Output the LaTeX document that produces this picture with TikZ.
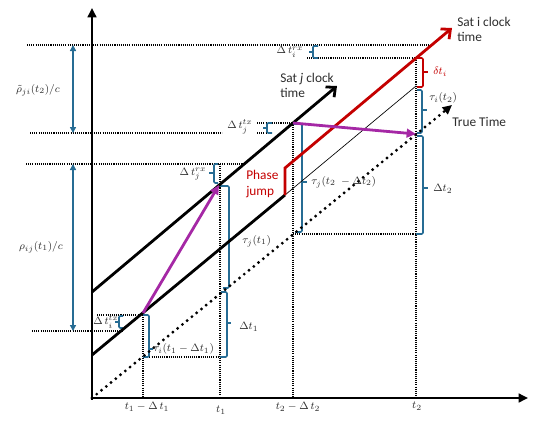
\documentclass[tikz,border=0pt]{standalone}
\usepackage{fontspec}
\setmainfont{Carlito}
\usetikzlibrary{arrows.meta}
\definecolor{bl}{RGB}{38,108,148}
\definecolor{rd}{RGB}{196,0,0}
\definecolor{pu}{RGB}{165,40,165}
\definecolor{tx}{RGB}{45,45,45}
\begin{document}
\begin{tikzpicture}[x=0.75pt,y=-0.75pt,
  axis/.style={line width=2.2pt, -{Triangle[length=7pt,width=6.5pt]}},
  clock/.style={line width=2.1pt},
  openhead/.style={-{Straight Barb[length=5.5pt,width=10pt]}},
  grid/.style={line width=1pt, dash pattern=on 0.8pt off 0.8pt},
  ttime/.style={line width=2.4pt, line cap=round, dash pattern=on 0pt off 4.6pt},
  sig/.style={pu, line width=2.1pt, -{Triangle[length=7pt,width=6.5pt]}},
  brace/.style={bl, line width=1.2pt, rounded corners=1pt},
  rbrace/.style={rd, line width=1.2pt, rounded corners=1pt},
  rng/.style={bl, line width=1pt, {Triangle[length=4.5pt,width=4.5pt]}-{Triangle[length=4.5pt,width=4.5pt]}},
  ml/.style={font=\fontsize{8.5}{10}\selectfont, text=tx, inner sep=0pt},
  tl/.style={font=\fontsize{8}{10}\selectfont, text=tx, inner sep=0pt},
  wl/.style={font=\fontsize{10}{11.5}\selectfont, align=left, inner sep=0pt, anchor=west, text=tx},
]
\useasboundingbox (0,0) rectangle (536,425);

% key points
\coordinate (O) at (92,398);
\coordinate (Ytop) at (92,8);
\coordinate (Xend) at (528,398);
\coordinate (TTend) at (452,105);
\coordinate (TTpre) at (446,110);
\coordinate (J0) at (92,292);
\coordinate (Jend) at (337,86);
\coordinate (I0) at (92,355);
\coordinate (Ijump) at (285,195);
\coordinate (Itop) at (285,168);
\coordinate (Ithin) at (416,86);
\coordinate (Iend) at (452,28);
\coordinate (Tx1) at (143,313);
\coordinate (Rx1) at (219,185);
\coordinate (Tx2) at (293,123);
\coordinate (Rx2) at (416,134);

% dotted guide lines
\draw[grid] (27,45) -- (430,45);
\draw[grid] (307,58) -- (416,58);
\draw[grid] (30,133) -- (222,133);
\draw[grid] (257,133) -- (268,133);
\draw[grid] (257,123) -- (Tx2);
\draw[grid] (26,164) -- (243,164);
\draw[grid] (97,315) -- (143,315);
\draw[grid] (32,331) -- (123,331);
\draw[grid] (143,357) -- (220,357);
\draw[grid] (293,234) -- (416,234);
\draw[grid] (143,315) -- (143,398);
\draw[grid] (220,164) -- (220,398);
\draw[grid] (Tx2) -- (293,398);
\draw[grid] (416,58) -- (416,398);

% range arrows
\draw[rng] (73,45) -- (73,133);
\draw[rng] (73,164) -- (73,331);

% right-pointing braces
\draw[brace] (143,315) -- (149,315) -- (149,357) -- (143,357);
\draw[bl, line width=1.2pt] (149,349) -- (153,349);
\draw[brace] (221,292) -- (227,292) -- (227,357) -- (220,357);
\draw[bl, line width=1.2pt] (227,323) -- (231,323);
\draw[brace] (220,186) -- (229,186) -- (229,288) -- (223,288);
\draw[bl, line width=1.2pt] (229,239) -- (233,239);
\draw[brace] (293,124) -- (302,124) -- (302,232) -- (295,232);
\draw[bl, line width=1.2pt] (302,182) -- (307,182);
\draw[rbrace] (416,58) -- (423,58) -- (423,87) -- (417,87);
\draw[rd, line width=1.2pt] (423,72) -- (428,72);
\draw[brace] (417,90) -- (422,90) -- (422,133) -- (417,133);
\draw[bl, line width=1.2pt] (422,110) -- (427,110);
\draw[brace] (417,136) -- (423,136) -- (423,234) -- (416,234);
\draw[bl, line width=1.2pt] (423,188) -- (428,188);

% left-pointing braces
\draw[brace] (318,46) -- (313,46) -- (313,58) -- (318,58);
\draw[bl, line width=1.2pt] (313,52) -- (309,52);
\draw[brace] (272,123) -- (267,123) -- (267,133) -- (272,133);
\draw[bl, line width=1.2pt] (267,128) -- (263,128);
\draw[brace] (218,164) -- (214,164) -- (214,183) -- (218,183);
\draw[bl, line width=1.2pt] (214,173) -- (209,173);
\draw[brace] (123,316) -- (119,316) -- (119,328) -- (123,328);
\draw[bl, line width=1.2pt] (119,322) -- (115,322);

% axes
\draw[axis] (92,399.5) -- (Ytop);
\draw[axis] (91,398) -- (Xend);

% true time
\draw[ttime] (O) -- (TTpre);
\draw[line width=2.2pt, -{Triangle[length=7pt,width=6.5pt]}] (TTpre) -- (TTend);

% clocks
\draw[clock, openhead] (J0) -- (Jend);
\draw[clock] (I0) -- (Ijump);
\draw[line width=0.5pt] (Ijump) -- (Ithin);
\draw[clock, rd, openhead] (Ijump) -- (Itop) -- (Iend);

% signals
\draw[sig] (Tx1) -- (Rx1);
\draw[sig] (Tx2) -- (Rx2);

% labels
\node[ml] (lrhot) at (38,90) {$\tilde{\rho}_{ji}(t_2)/c$};
\node[ml] (lrho) at (41,247) {$\rho_{ij}(t_1)/c$};
\node[ml] (ltirx) at (290,52) {$\Delta\,t_i^{rx}$};
\node[ml] (ltjtx) at (240,127) {$\Delta\,t_j^{tx}$};
\node[ml] (ltjrx) at (193,174) {$\Delta\,t_j^{rx}$};
\node[ml] (ltitx) at (106,322) {$\Delta\,t_i^{tx}$};
\node[ml, anchor=west] (ltaui1) at (153,349) {$\tau_i(t_1-\Delta t_1)$};
\node[ml, anchor=west] (ldt1) at (239,327) {$\Delta t_1$};
\node[ml, anchor=west] (ltauj1) at (242,241) {$\tau_j(t_1)$};
\node[ml, anchor=west] (ltauj2) at (311,182) {$\tau_j(t_2\;-\Delta t_2)$};
\node[ml, anchor=west, text=rd] (ldelta) at (433,72) {$\delta t_i$};
\node[ml, anchor=west] (ltaui2) at (429,98) {$\tau_i(t_2)$};
\node[ml, anchor=west] (ldt2) at (433,189) {$\Delta t_2$};
\node[tl] (x1) at (147,407) {$t_1-\Delta\,t_1$};
\node[tl] (x2) at (221,410) {$t_1$};
\node[tl] (x3) at (298,407) {$t_2-\Delta\,t_2$};
\node[tl] (x4) at (417,406) {$t_2$};
\node[wl] (satj) at (280,85.5) {Sat \textit{j} clock\\time};
\node[wl] (sati) at (457,29.5) {Sat i clock\\time};
\node[wl] (true) at (452,122) {True Time};
\node[wl, text=rd] (phase) at (246,184) {Phase\\jump};
\end{tikzpicture}
\end{document}
